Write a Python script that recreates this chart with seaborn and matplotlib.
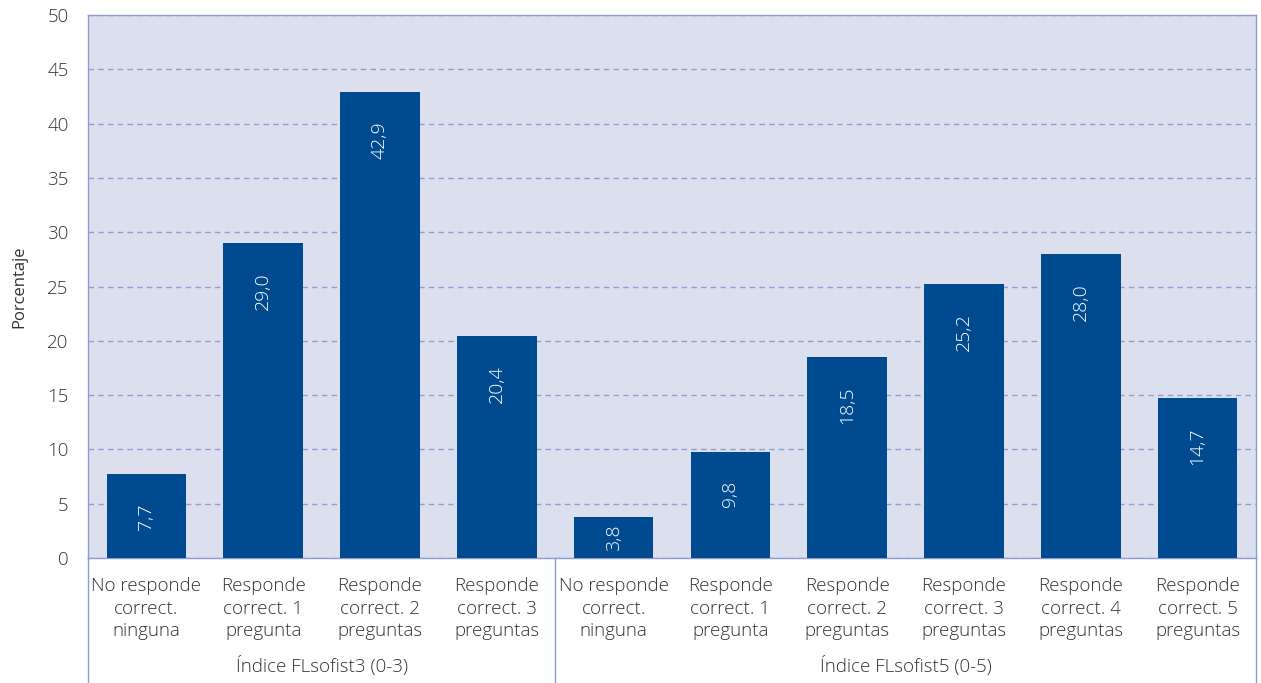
import matplotlib
matplotlib.use("Agg")
import matplotlib.pyplot as plt
import matplotlib.transforms as mtransforms
import seaborn as sns
import pandas as pd

# Data
grupos = ["Índice FLsofist3 (0-3)", "Índice FLsofist5 (0-5)"]
categorias_fl3 = [
    "No responde\ncorrect.\nninguna",
    "Responde\ncorrect. 1\npregunta",
    "Responde\ncorrect. 2\npreguntas",
    "Responde\ncorrect. 3\npreguntas",
]
categorias_fl5 = [
    "No responde\ncorrect.\nninguna",
    "Responde\ncorrect. 1\npregunta",
    "Responde\ncorrect. 2\npreguntas",
    "Responde\ncorrect. 3\npreguntas",
    "Responde\ncorrect. 4\npreguntas",
    "Responde\ncorrect. 5\npreguntas",
]
valores_fl3 = [7.7, 29.0, 42.9, 20.4]
valores_fl5 = [3.8, 9.8, 18.5, 25.2, 28.0, 14.7]
y_ticks = [0, 5, 10, 15, 20, 25, 30, 35, 40, 45, 50]

sns.set_theme(style="white")
plt.rcParams["font.family"] = ["Open Sans", "DejaVu Sans"]
plt.rcParams["font.weight"] = "light"

BAR = "#004A8F"
BG = "#DCE0EE"
GRID = "#8F9ED0"
FRAME = "#8C9BD1"
TEXT = "#333333"

categorias = categorias_fl3 + categorias_fl5
valores = valores_fl3 + valores_fl5
claves = [f"{g}|{i}" for g, cats in zip(grupos, [categorias_fl3, categorias_fl5])
          for i, _ in enumerate(cats)]
df = pd.DataFrame({"clave": claves, "valor": valores})

fig = plt.figure(figsize=(12.61, 6.83), dpi=100)
ax = fig.add_axes([88 / 1261, 1 - 558 / 683, (1256 - 88) / 1261, (558 - 15) / 683])
ax.set_facecolor(BG)

sns.barplot(data=df, x="clave", y="valor", order=claves, color=BAR,
            saturation=1, width=0.68, linewidth=0, ax=ax, zorder=3)

ax.set_ylim(0, 50)
ax.set_xlim(-0.5, len(claves) - 0.5)
ax.set_yticks(y_ticks)
ax.set_yticklabels([str(t) for t in y_ticks])
ax.set_xticks(range(len(claves)))
ax.set_xticklabels(categorias, linespacing=1.32)
ax.tick_params(axis="x", length=0, pad=14, labelsize=13.5, colors=TEXT)
ax.tick_params(axis="y", length=0, pad=14, labelsize=13.5, colors=TEXT)
ax.yaxis.grid(True, linestyle=(0, (4, 3)), color=GRID, linewidth=1)
ax.set_axisbelow(True)
ax.set_xlabel("")
ax.set_ylabel("Porcentaje", fontsize=12, color=TEXT, labelpad=14)

for s in ax.spines.values():
    s.set_color(FRAME)
    s.set_linewidth(1)

# Value labels inside the bars, near the top; short bars get a centred label
for i, v in enumerate(valores):
    texto = f"{v:.1f}".replace(".", ",")
    if v < 6:
        ax.annotate(texto, xy=(i, v / 2), ha="center", va="center",
                    rotation=90, color="white", fontsize=14, zorder=4)
    else:
        ax.annotate(texto, xy=(i, v), xytext=(0, -21),
                    textcoords="offset points", rotation=90, ha="center",
                    va="top", color="white", fontsize=14, zorder=4)

# Group separators and group labels below the axis
trans = mtransforms.blended_transform_factory(ax.transData, ax.transAxes)
bajo = -(683 - 558) / (558 - 15)
for xs in [-0.5, len(valores_fl3) - 0.5, len(claves) - 0.5]:
    ax.plot([xs, xs], [0, bajo], transform=trans, color=FRAME, linewidth=1,
            clip_on=False)
centros = [(len(valores_fl3) - 1) / 2,
           len(valores_fl3) + (len(valores_fl5) - 1) / 2]
for c, g in zip(centros, grupos):
    ax.text(c, -(666 - 558) / (558 - 15), g, transform=trans, ha="center",
            va="center", fontsize=13.5, color=TEXT)

fig.savefig("out.png", dpi=100)
